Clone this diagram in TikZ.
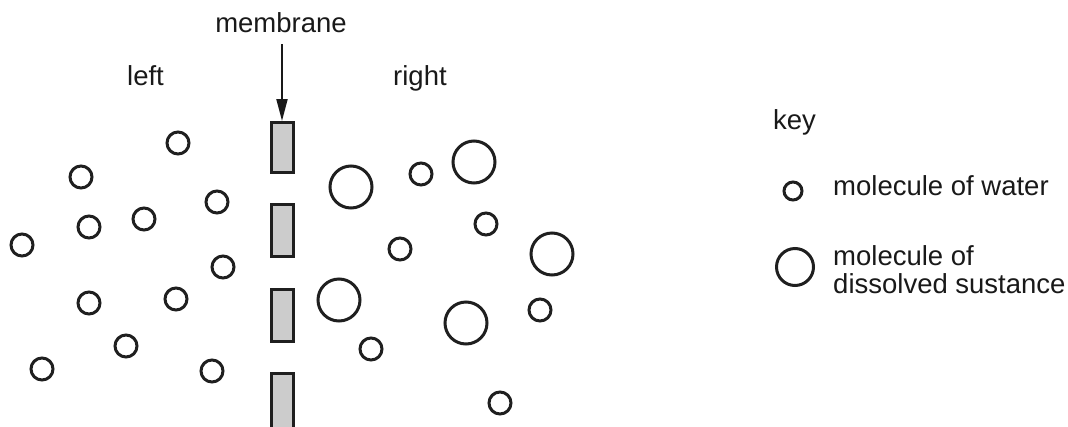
\documentclass[tikz,border=0pt]{standalone}
\usepackage{fontspec}
\setmainfont{Liberation Sans}
\usetikzlibrary{arrows.meta}
\begin{document}
\begin{tikzpicture}[x=1pt,y=-1pt,
  lbl/.style={inner sep=0pt,anchor=base west,text=black!90,font=\fontsize{27.5}{28}\selectfont},
  water/.style={circle,draw=black!88,line width=3pt,minimum size=22pt,inner sep=0pt},
  solute/.style={circle,draw=black!88,line width=3pt,minimum size=42pt,inner sep=0pt},
  wall/.style={draw=black!88,fill=black!20,line width=3.2pt}]
\useasboundingbox (0,0) rectangle (1068,426);
% labels
\node[lbl,anchor=base] (mem) at (281,32) {membrane};
\node[lbl] (left) at (127,85) {left};
\node[lbl] (right) at (393,85) {right};
\node[lbl] (key) at (773,129) {key};
% membrane pieces
\begin{scope}
\clip (0,0) rectangle (1068,426);
\draw[wall] (271.5,122.5) rectangle (293.5,172.5);
\draw[wall] (271.5,204.5) rectangle (293.5,256.5);
\draw[wall] (271.5,289.5) rectangle (293.5,341.5);
\draw[wall] (271.5,373.5) rectangle (293.5,440);
\end{scope}
\coordinate (memtop) at (282,121);
\draw[draw=black!90,line width=2pt,-{Triangle[width=11pt,length=22pt]}] (282,44) -- (memtop);
% left side: water only
\foreach \n/\px/\py in {l1/178/143,l2/81/177,l3/217/202,l4/89/227,l5/144/219,l6/22/245,
  l7/223/267,l8/89/303,l9/176/299,l10/126/346,l11/42/369,l12/212/371}
  \node[water] (\n) at (\px,\py) {};
% right side: water and dissolved substance
\foreach \n/\px/\py in {r1/421/174,r2/486/224,r3/400/249,r4/540/310,r5/371/349,r6/500/403}
  \node[water] (\n) at (\px,\py) {};
\foreach \n/\px/\py in {s1/351/187,s2/474/162,s3/552/254,s4/339/300,s5/466/323}
  \node[solute] (\n) at (\px,\py) {};
% key
\node[water,minimum size=18pt] (kw) at (793,191) {};
\node[solute,minimum size=37pt] (ks) at (795,267) {};
\node[lbl] (kwt) at (833,195) {molecule of water};
\node[lbl] (kst1) at (833,265) {molecule of};
\node[lbl] (kst2) at (833,293) {dissolved sustance};
\end{tikzpicture}
\end{document}
